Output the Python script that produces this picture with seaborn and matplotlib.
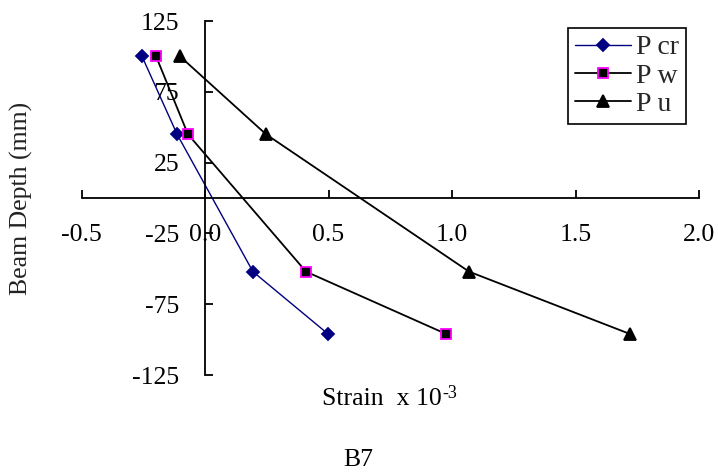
import matplotlib
matplotlib.use("Agg")
import matplotlib.pyplot as plt
import seaborn as sns
import pandas as pd

# data
depth = [100, 45, -52, -96]
p_cr = [-0.255, -0.113, 0.194, 0.498]
p_w = [-0.198, -0.069, 0.409, 0.976]
p_u = [-0.101, 0.247, 1.069, 1.72]
x_ticks = [-0.5, 0.0, 0.5, 1.0, 1.5, 2.0]
y_ticks = [-125, -75, -25, 25, 75, 125]

sns.set_theme(style="white")
plt.rcParams['font.family'] = ['Liberation Serif', 'DejaVu Serif']
plt.rcParams['axes.unicode_minus'] = False

W, H = 718, 474
fig = plt.figure(figsize=(W / 100, H / 100), dpi=100)
l, r, b, t = 81.5, 699, 375, 21
ax = fig.add_axes([l / W, 1 - b / H, (r - l) / W, (b - t) / H])

fs = 18.5
series = [
    ("P cr", p_cr, "D", "#000080", "#000080", "#000080", 1.0, 6.5),
    ("P w", p_w, "s", "black", "black", "#FF00FF", 1.3, 7.5),
    ("P u", p_u, "^", "black", "black", "black", 1.3, 8),
]
for name, xs, mk, lc, mfc, mec, lw, ms in series:
    df = pd.DataFrame({"x": xs, "y": depth})
    sns.lineplot(data=df, x="x", y="y", sort=False, estimator=None, ax=ax,
                 marker=mk, color=lc, markerfacecolor=mfc, markeredgecolor=mec,
                 markeredgewidth=1.3, markersize=ms, linewidth=lw, label=name)

ax.set_xlim(-0.5, 2.0)
ax.set_ylim(-125, 125)
ax.set_xticks(x_ticks)
ax.set_xticklabels([f"{v:.1f}" for v in x_ticks])
ax.set_yticks(y_ticks)
ax.set_yticklabels([str(v) for v in y_ticks])
ax.spines['left'].set_position(('data', 0))
ax.spines['bottom'].set_position(('data', 0))
ax.spines['top'].set_visible(False)
ax.spines['right'].set_visible(False)
for s in ['left', 'bottom']:
    ax.spines[s].set_color('black')
    ax.spines[s].set_linewidth(1.3)
ax.tick_params(axis='both', direction='in', length=5.5, width=1.3, color='black',
               labelsize=fs, labelcolor='black', bottom=True, left=True)
ax.tick_params(axis='x', pad=19)
ax.tick_params(axis='y', pad=18.5)
ax.set_xlabel("")
ax.set_ylabel("")
ax.patch.set_alpha(0)

leg = ax.legend(loc='upper left', bbox_to_anchor=(568 / W, 1 - 28 / H),
                bbox_transform=fig.transFigure, fontsize=20, frameon=True,
                fancybox=False, edgecolor='black', framealpha=1,
                handlelength=2.0, handletextpad=0.2, labelspacing=0.1,
                borderpad=0.25, borderaxespad=0)
leg.get_frame().set_linewidth(1.2)

fig.text(21 / W, 1 - 198 / H, "Beam Depth (mm)", rotation=90, ha='center',
         va='center', fontsize=fs, color='#222222')
fig.text(442 / W, 1 - 405 / H, "Strain  x 10", ha='right', va='baseline',
         fontsize=fs, color='black')
fig.text(442 / W, 1 - 393 / H, "-3", ha='left', va='center',
         fontsize=fs * 0.7, color='black')
fig.text(358 / W, 1 - 460 / H, "B7", ha='center', va='center', fontsize=fs,
         color='black')

fig.savefig("out.png", dpi=100)
